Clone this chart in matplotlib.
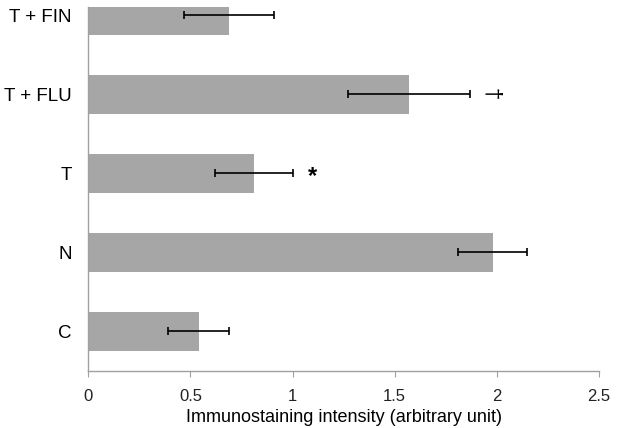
"""Horizontal bar chart: immunostaining intensity per group, with SE bars."""

import matplotlib
matplotlib.use("Agg")
import matplotlib.pyplot as plt

plt.rcParams["font.family"] = ["Liberation Sans", "DejaVu Sans"]

groups = ["C", "N", "T", "T + FLU", "T + FIN"]
intensity = [0.54, 1.98, 0.81, 1.57, 0.69]
errors = [0.15, 0.17, 0.19, 0.30, 0.22]

# significance marks: (group, x position, symbol)
marks = [("T", 1.10, "*"), ("T + FLU", 1.97, "†")]

BAR = "#a6a6a6"
AXIS = "#a0a0a0"


def main():
    fig = plt.figure(figsize=(6.17, 4.28), dpi=100)
    ax = fig.add_axes([0.1431, 0.134, 0.8275, 0.849])

    pos = list(range(len(groups)))
    ax.barh(pos, intensity, height=0.49, color=BAR, zorder=2)
    ax.errorbar(intensity, pos, xerr=errors, fmt="none", ecolor="black",
                elinewidth=1.2, capsize=2.6, capthick=1.2, zorder=3)

    for g, x, sym in marks:
        y = groups.index(g)
        if sym == "*":
            ax.text(x, y - 0.04, sym, fontsize=17, fontweight="bold",
                    ha="center", va="center")
        else:
            ax.text(x, y, sym, fontsize=16, rotation=-90,
                    ha="center", va="center")

    ax.set_xlim(0, 2.5)
    ax.set_ylim(-0.5, 4.1)
    ax.set_xticks([0, 0.5, 1, 1.5, 2, 2.5])
    ax.set_xticklabels(["0", "0.5", "1", "1.5", "2", "2.5"])
    ax.set_yticks(pos)
    ax.set_yticklabels(groups)

    for side in ["top", "right"]:
        ax.spines[side].set_visible(False)
    for side in ["left", "bottom"]:
        ax.spines[side].set_color(AXIS)
        ax.spines[side].set_linewidth(1.0)

    ax.tick_params(axis="y", length=0, pad=12, labelsize=13.5)
    ax.tick_params(axis="x", length=4, color=AXIS, pad=9, labelsize=12,
                   labelcolor="#222222")
    ax.set_xlabel("Immunostaining intensity (arbitrary unit)", fontsize=13,
                  labelpad=4)

    fig.savefig("out.png", dpi=100)


if __name__ == "__main__":
    main()
